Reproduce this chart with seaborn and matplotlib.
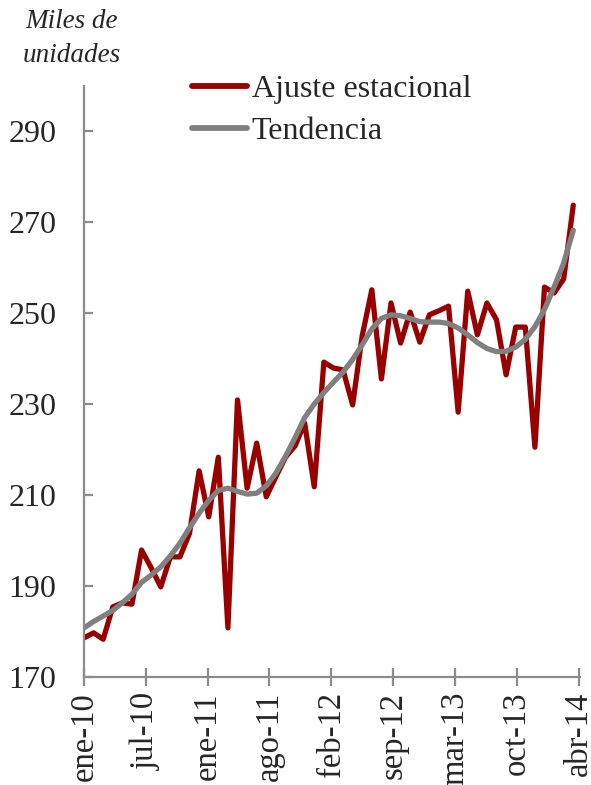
import numpy as np
import pandas as pd
import matplotlib
matplotlib.use("Agg")
import matplotlib.pyplot as plt
import seaborn as sns
from matplotlib.lines import Line2D

# Monthly data: ene-2010 .. abr-2014 (52 months)
months = pd.date_range("2010-01-01", "2014-04-01", freq="MS")

ajuste = [178.6, 179.7, 178.3, 185.4, 186.3, 186.0, 197.9, 194.0, 189.8, 196.4,
          196.4, 201.6, 215.3, 205.2, 218.3, 180.8, 230.9, 211.5, 221.4, 209.6,
          214.0, 218.3, 220.8, 225.8, 211.8, 239.2, 237.9, 237.5, 229.8, 245.0,
          255.1, 235.5, 252.2, 243.4, 250.2, 243.6, 249.6, 250.5, 251.5, 228.2,
          254.8, 245.2, 252.2, 248.5, 236.4, 246.9, 246.9, 220.5, 255.7, 254.4,
          257.5, 273.7]

tendencia = [180.8, 182.2, 183.4, 184.6, 186.3, 188.2, 190.8, 192.4, 194.2, 196.6,
             199.4, 202.8, 206.0, 208.8, 211.0, 211.5, 210.8, 210.2, 210.4, 212.0,
             214.8, 218.5, 222.6, 227.0, 230.0, 232.5, 234.8, 237.0, 239.8, 243.0,
             246.5, 248.8, 249.6, 249.4, 248.8, 248.1, 248.0, 248.0, 247.7, 246.7,
             245.2, 243.5, 242.2, 241.5, 241.6, 242.5, 244.2, 247.0, 250.8, 255.7,
             261.0, 268.2]

tick_labels = ["ene-10", "jul-10", "ene-11", "ago-11", "feb-12",
               "sep-12", "mar-13", "oct-13", "abr-14"]
y_ticks = [170, 190, 210, 230, 250, 270, 290]

series_names = ["Ajuste estacional", "Tendencia"]
colors = ["#990000", "#808080"]

df = pd.DataFrame({"idx": np.arange(len(months)),
                   "Ajuste estacional": ajuste,
                   "Tendencia": tendencia})
long = df.melt(id_vars="idx", var_name="serie", value_name="valor")

sns.set_style("white")
plt.rcParams["font.family"] = ["Liberation Serif", "DejaVu Serif"]

fig = plt.figure(figsize=(5.91, 7.85), dpi=100)
W, H = 591, 785
left, right, bottom, top = 84, 580, 677, 85.5
ax = fig.add_axes([left / W, (H - bottom) / H, (right - left) / W, (bottom - top) / H])

sns.lineplot(data=long, x="idx", y="valor", hue="serie",
             hue_order=series_names, palette=colors, linewidth=3.8,
             ax=ax, legend=False)
for ln in ax.lines:
    ln.set_solid_joinstyle("round")
    ln.set_solid_capstyle("round")

xmax = 51.7
ax.set_xlim(0, xmax)
ax.set_ylim(170, 300)
ax.set_xticks(np.linspace(0, 51.55, len(tick_labels)))
ax.set_xticklabels(tick_labels, rotation=90, fontsize=23.5)
ax.set_yticks(y_ticks)
ax.set_yticklabels([str(v) for v in y_ticks], fontsize=23)
ax.set_xlabel("")
ax.set_ylabel("")

for s in ["top", "right"]:
    ax.spines[s].set_visible(False)
for s in ["left", "bottom"]:
    ax.spines[s].set_color("#8c8c8c")
    ax.spines[s].set_linewidth(1.6)

ax.tick_params(axis="y", direction="in", length=6.5, width=1.6, color="#8c8c8c",
               pad=20, left=True)
ax.tick_params(axis="x", direction="inout", length=13.5, width=1.6, color="#8c8c8c",
               pad=4, bottom=True)
ax.grid(False)

handles = [Line2D([], [], color=c, linewidth=4.2, solid_capstyle="round") for c in colors]
fig.legend(handles, series_names, loc="upper left",
           bbox_to_anchor=(192 / W, 1 - 75 / H), frameon=False,
           fontsize=23, handlelength=1.72, handletextpad=0.15,
           labelspacing=0.38, borderpad=0, borderaxespad=0)

fig.text(72 / W, 1 - 22 / H, "Miles de", ha="center", va="center",
         fontsize=19.5, style="italic")
fig.text(72 / W, 1 - 55 / H, "unidades", ha="center", va="center",
         fontsize=19.5, style="italic")

fig.savefig("out.png", dpi=100)
